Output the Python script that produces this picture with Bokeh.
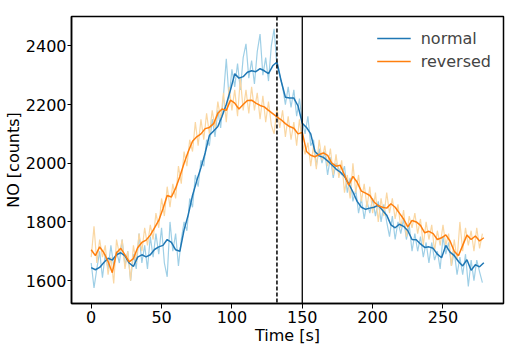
from bokeh.plotting import figure
from bokeh.models import Span, Legend, LegendItem, Range1d, FixedTicker
from bokeh.embed import file_html
from bokeh.resources import INLINE

# smoothed series, every 3 s
time_smooth = list(range(0, 280, 3))
normal_smooth = [1644, 1637, 1645, 1662, 1676, 1670, 1688, 1695, 1684, 1660,
                 1648, 1680, 1688, 1681, 1688, 1706, 1715, 1720, 1740, 1730,
                 1705, 1700, 1773, 1825, 1890, 1940, 1985, 2035, 2095, 2110,
                 2125, 2160, 2200, 2250, 2305, 2290, 2295, 2310, 2315, 2312,
                 2322, 2315, 2305, 2332, 2345, 2280, 2225, 2222, 2222, 2195,
                 2136, 2122, 2100, 2040, 2025, 2020, 2008, 1995, 1980, 1970,
                 1955, 1930, 1902, 1870, 1850, 1843, 1847, 1850, 1857, 1840,
                 1823, 1790, 1780, 1792, 1785, 1770, 1740, 1739, 1725, 1713,
                 1715, 1710, 1690, 1678, 1720, 1697, 1685, 1665, 1650, 1671,
                 1635, 1654, 1647, 1661]
reversed_smooth = [1705, 1685, 1715, 1695, 1665, 1627, 1695, 1710, 1688, 1664,
                   1675, 1712, 1730, 1738, 1755, 1780, 1805, 1845, 1890, 1885,
                   1915, 1955, 2000, 2040, 2075, 2090, 2100, 2118, 2122, 2135,
                   2170, 2185, 2180, 2215, 2205, 2185, 2200, 2214, 2215, 2205,
                   2197, 2192, 2180, 2169, 2158, 2148, 2135, 2125, 2119, 2100,
                   2105, 2040, 2027, 2022, 2030, 2035, 2027, 2000, 1990, 1993,
                   1960, 1925, 1955, 1935, 1905, 1898, 1890, 1868, 1855, 1850,
                   1847, 1862, 1850, 1830, 1810, 1783, 1805, 1800, 1788, 1763,
                   1768, 1760, 1740, 1746, 1756, 1735, 1700, 1685, 1720, 1755,
                   1740, 1752, 1735, 1746]

# raw series, every 2 s
time_raw = list(range(0, 280, 2))
normal_raw = [1660, 1575, 1640, 1700, 1610, 1690, 1640, 1720, 1650, 1700,
              1660, 1740, 1650, 1700, 1600, 1690, 1640, 1760, 1660, 1720,
              1640, 1750, 1680, 1760, 1690, 1780, 1660, 1613, 1800, 1700,
              1760, 1650, 1740, 1800, 1770, 1880, 1850, 1960, 1920, 2010,
              1990, 2080, 2060, 2150, 2090, 2180, 2120, 2230, 2356, 2220,
              2320, 2260, 2340, 2250, 2360, 2407, 2290, 2350, 2270, 2380,
              2440, 2300, 2360, 2280, 2400, 2458, 2330, 2300, 2260, 2200,
              2260, 2190, 2250, 2160, 2220, 2140, 2100, 2160, 2060, 2080,
              1990, 2050, 2000, 2040, 1960, 2020, 1950, 2000, 1980, 1960,
              1990, 1900, 1950, 1870, 1910, 1830, 1880, 1810, 1870, 1830,
              1880, 1820, 1870, 1800, 1860, 1800, 1750, 1820, 1740, 1800,
              1760, 1810, 1740, 1790, 1700, 1760, 1700, 1750, 1680, 1730,
              1660, 1730, 1670, 1700, 1640, 1750, 1690, 1730, 1650, 1700,
              1620, 1680, 1620, 1690, 1580, 1670, 1600, 1670, 1630, 1593]
reversed_raw = [1680, 1785, 1660, 1740, 1680, 1720, 1620, 1680, 1590, 1740,
                1690, 1740, 1640, 1700, 1600, 1720, 1660, 1760, 1700, 1780,
                1720, 1790, 1740, 1830, 1780, 1880, 1820, 1920, 1850, 1930,
                1880, 1990, 1930, 2040, 1990, 2080, 2040, 2140, 2060, 2150,
                2080, 2170, 2100, 2180, 2120, 2210, 2150, 2240, 2140, 2260,
                2180, 2250, 2160, 2290, 2180, 2250, 2170, 2260, 2180, 2240,
                2150, 2230, 2140, 2210, 2130, 2100, 2190, 2120, 2180, 2090,
                2160, 2080, 2140, 2060, 2150, 2070, 2030, 2070, 1990, 2060,
                1980, 2080, 2010, 2060, 1990, 2050, 1960, 2030, 1950, 2010,
                1900, 1960, 1880, 2000, 1900, 1960, 1870, 1930, 1850, 1920,
                1830, 1900, 1800, 1880, 1820, 1900, 1830, 1880, 1810, 1860,
                1780, 1840, 1750, 1820, 1780, 1830, 1760, 1810, 1720, 1800,
                1740, 1790, 1700, 1770, 1720, 1790, 1720, 1760, 1650, 1740,
                1670, 1800, 1700, 1780, 1720, 1770, 1700, 1780, 1710, 1760]

x_ticks = [0, 50, 100, 150, 200, 250]
y_ticks = [1600, 1800, 2000, 2200, 2400]
dashed_marker = 132
solid_marker = 150

FONT = "DejaVu Sans"

p = figure(width=517, height=350, output_backend="svg",
           toolbar_location=None,
           x_range=Range1d(-14, 293), y_range=Range1d(1522, 2500),
           min_border_left=71, min_border_right=14, min_border_top=16,
           min_border_bottom=47)

p.line(time_raw, normal_raw, line_color="#9fcfe6", line_width=1.2)
p.line(time_raw, reversed_raw, line_color="#fad7a3", line_width=1.2)
l1 = p.line(time_smooth, normal_smooth, line_color="#1f77b4", line_width=1.5)
l2 = p.line(time_smooth, reversed_smooth, line_color="#ff7f0e", line_width=1.5)

p.add_layout(Span(location=dashed_marker, dimension="height", line_color="black",
                  line_width=1.5, line_dash="4 2"))
p.add_layout(Span(location=solid_marker, dimension="height", line_color="black",
                  line_width=1.3))

legend = Legend(items=[LegendItem(label="normal", renderers=[l1]),
                       LegendItem(label="reversed", renderers=[l2])],
                location="top_right", border_line_alpha=0, background_fill_alpha=0,
                label_text_font=FONT, label_text_font_size="16px",
                glyph_width=34, spacing=3, label_standoff=10, margin=4,
                padding=8)
p.add_layout(legend)

p.grid.visible = False
p.outline_line_color = "black"
p.outline_line_width = 1.5
p.outline_line_alpha = 1

for ax in (p.xaxis, p.yaxis):
    ax.major_label_text_font = FONT
    ax.major_label_text_font_size = "16px"
    ax.major_label_text_color = "black"
    ax.axis_label_text_font = FONT
    ax.axis_label_text_font_size = "16px"
    ax.axis_label_text_font_style = "normal"
    ax.axis_label_text_color = "black"
    ax.minor_tick_line_color = None
    ax.major_tick_out = 5
    ax.major_tick_in = 0
    ax.major_tick_line_color = "black"
    ax.axis_line_color = "black"
    ax.axis_line_width = 1.5
    ax.major_label_standoff = 2

p.yaxis.major_tick_out = 4
p.yaxis.major_label_standoff = 1
p.xaxis.ticker = FixedTicker(ticks=x_ticks)
p.yaxis.ticker = FixedTicker(ticks=y_ticks)
p.xaxis.axis_label = "Time [s]"
p.yaxis.axis_label = "NO [counts]"
p.xaxis.axis_label_standoff = 0
p.yaxis.axis_label_standoff = 0

open("out.html", "w").write(file_html(p, INLINE))
